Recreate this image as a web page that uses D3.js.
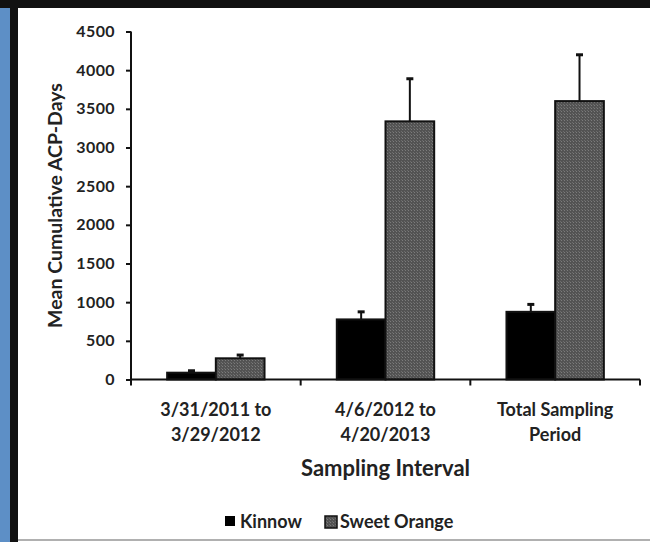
<!DOCTYPE html>
<html>
<head>
<meta charset="utf-8" />
<title>Mean Cumulative ACP-Days</title>
<style>
body { margin: 0; background: white; }
svg { display: block; font-family: "Lato", "Open Sans", sans-serif; }
</style>
<script src="https://d3js.org/d3.v7.min.js"></script>
</head>
<body>
<script>
var width = 650;
var height = 542;

// data
var categories = [["3/31/2011 to", "3/29/2012"], ["4/6/2012 to", "4/20/2013"], ["Total Sampling", "Period"]];
var series = ["Kinnow", "Sweet Orange"];
var kinnow = [88, 777, 875];
var kinnowErr = [25, 98, 96];
var sweetOrange = [274, 3338, 3600];
var sweetOrangeErr = [42, 551, 599];
var yTicks = [0, 500, 1000, 1500, 2000, 2500, 3000, 3500, 4000, 4500];

var svg = d3.select("body").append("svg")
  .attr("width", width)
  .attr("height", height);

// pattern for sweet orange bars
var defs = svg.append("defs");
var pat = defs.append("pattern")
  .attr("id", "dots")
  .attr("width", 3).attr("height", 3)
  .attr("patternUnits", "userSpaceOnUse");
pat.append("rect").attr("width", 3).attr("height", 3).attr("fill", "#535353");
pat.append("rect").attr("width", 1).attr("height", 1).attr("fill", "#7c7c7c");
pat.append("rect").attr("x", 2).attr("y", 2).attr("width", 1).attr("height", 1).attr("fill", "#6c6c6c");

// frame bits from the page around the figure
svg.append("rect").attr("x", 0).attr("y", 0).attr("width", 10).attr("height", height).attr("fill", "#5d8fc6");
svg.append("rect").attr("x", 10).attr("y", 0).attr("width", 8).attr("height", height).attr("fill", "#111");
svg.append("rect").attr("x", 0).attr("y", 0).attr("width", width).attr("height", 8).attr("fill", "#111");
svg.append("rect").attr("x", 18).attr("y", 539).attr("width", width - 18).attr("height", 2).attr("fill", "#b0b0b0");

var pLeft = 131, pRight = 640, pTop = 31.5, pBottom = 379.5;

var x0 = d3.scaleBand()
  .domain(d3.range(categories.length))
  .range([pLeft, pRight])
  .padding(0);

var bw = x0.bandwidth();
var x1 = d3.scaleBand()
  .domain(series)
  .range([bw * 0.213, bw * 0.787])
  .padding(0);

var y = d3.scaleLinear()
  .domain([0, 4500])
  .range([pBottom, pTop]);

var rows = categories.map(function(c, i) {
  return [
    { key: "Kinnow", i: i, v: kinnow[i], e: kinnowErr[i] },
    { key: "Sweet Orange", i: i, v: sweetOrange[i], e: sweetOrangeErr[i] }
  ];
});

// error bars (up only)
var g = svg.append("g");
rows.forEach(function(r) {
  r.forEach(function(d) {
    var cx = x0(d.i) + x1(d.key) + x1.bandwidth() / 2;
    g.append("line")
      .attr("x1", cx).attr("x2", cx)
      .attr("y1", y(d.v)).attr("y2", y(d.v + d.e))
      .attr("stroke", "#111").attr("stroke-width", 2);
    g.append("line")
      .attr("x1", cx - 3.5).attr("x2", cx + 3.5)
      .attr("y1", y(d.v + d.e)).attr("y2", y(d.v + d.e))
      .attr("stroke", "#111").attr("stroke-width", 3);
  });
});

// bars
rows.forEach(function(r) {
  g.selectAll(null)
    .data(r)
    .enter().append("rect")
    .attr("x", function(d) { return x0(d.i) + x1(d.key); })
    .attr("y", function(d) { return y(d.v); })
    .attr("width", x1.bandwidth())
    .attr("height", function(d) { return y(0) - y(d.v); })
    .attr("fill", function(d) { return d.key == "Kinnow" ? "#000" : "url(#dots)"; })
    .attr("stroke", "#111")
    .attr("stroke-width", 2);
});

// y axis
var yAxis = svg.append("g")
  .attr("transform", "translate(" + pLeft + ",0)")
  .call(d3.axisLeft(y).tickValues(yTicks).tickSize(5).tickPadding(11).tickFormat(d3.format("d")));
yAxis.select(".domain").attr("stroke", "#111").attr("stroke-width", 2).attr("d", "M0," + pTop + "V" + pBottom);
yAxis.selectAll(".tick line").attr("stroke", "#111").attr("stroke-width", 2);
yAxis.selectAll("text")
  .attr("font-size", 16).attr("font-weight", "bold").attr("fill", "#222")
  .attr("letter-spacing", 0.4)
  .attr("font-family", "Lato, sans-serif");

// x axis line with ticks at category boundaries
var xg = svg.append("g");
xg.append("line")
  .attr("x1", pLeft).attr("x2", pRight)
  .attr("y1", pBottom).attr("y2", pBottom)
  .attr("stroke", "#111").attr("stroke-width", 2);
var bounds = d3.range(categories.length + 1).map(function(i) { return pLeft + i * bw; });
xg.selectAll(".bt")
  .data(bounds)
  .enter().append("line")
  .attr("x1", function(d) { return d; }).attr("x2", function(d) { return d; })
  .attr("y1", pBottom).attr("y2", pBottom + 6)
  .attr("stroke", "#111").attr("stroke-width", 2);

// category labels
categories.forEach(function(c, i) {
  var t = xg.append("text")
    .attr("x", x0(i) + bw / 2)
    .attr("y", 416)
    .attr("text-anchor", "middle")
    .attr("font-size", 18).attr("font-weight", "bold").attr("fill", "#222");
  c.forEach(function(line, j) {
    t.append("tspan").attr("x", x0(i) + bw / 2).attr("dy", j == 0 ? 0 : 24.5).text(line);
  });
});

// axis titles
svg.append("text")
  .attr("x", (pLeft + pRight) / 2).attr("y", 476)
  .attr("text-anchor", "middle")
  .attr("font-size", 22).attr("font-weight", "bold").attr("fill", "#222")
  .text("Sampling Interval");

svg.append("text")
  .attr("transform", "translate(62," + ((pTop + pBottom) / 2) + ") rotate(-90)")
  .attr("text-anchor", "middle")
  .attr("font-size", 19.5).attr("font-weight", "bold").attr("fill", "#222")
  .text("Mean Cumulative ACP-Days");

// legend
var leg = svg.append("g");
var legX = [225, 325];
series.forEach(function(s, i) {
  leg.append("rect")
    .attr("x", legX[i]).attr("y", 516)
    .attr("width", i == 0 ? 10 : 12).attr("height", i == 0 ? 10 : 12)
    .attr("fill", i == 0 ? "#000" : "url(#dots)")
    .attr("stroke", "#111").attr("stroke-width", i == 0 ? 0 : 1.5);
  leg.append("text")
    .attr("x", legX[i] + 15).attr("y", 528)
    .attr("font-size", 18).attr("font-weight", "bold").attr("fill", "#222")
    .text(s);
});
</script>
</body>
</html>
